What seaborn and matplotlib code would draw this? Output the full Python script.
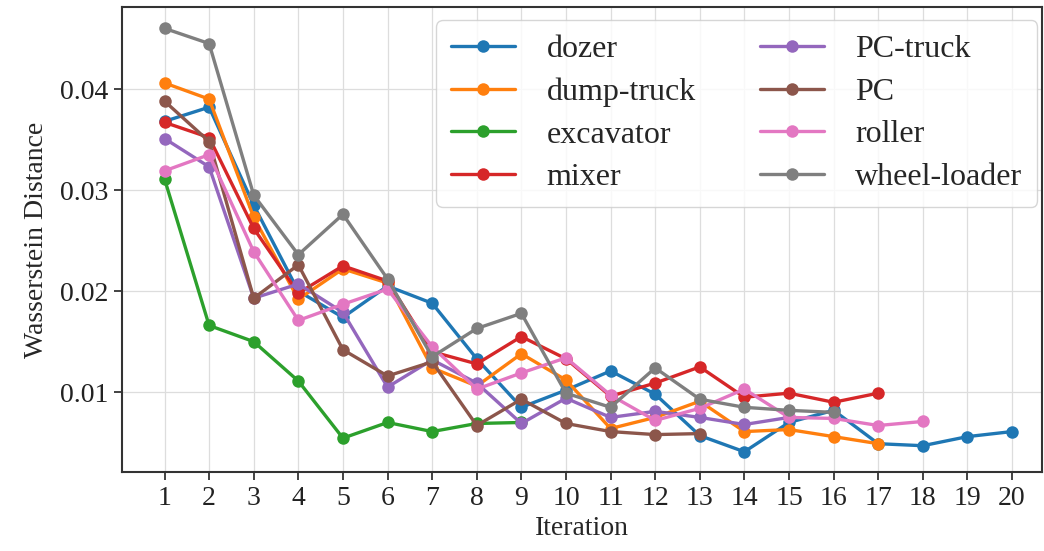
import numpy as np
import pandas as pd
import matplotlib
matplotlib.use("Agg")
import matplotlib.pyplot as plt
import seaborn as sns

# Wasserstein distance per iteration for each machine class
dozer = [0.0368, 0.0382, 0.0285, 0.0200, 0.0174, 0.0205, 0.0188, 0.0133, 0.0085, 0.0102,
         0.0121, 0.0098, 0.0057, 0.0041, 0.0070, 0.0082, 0.0049, 0.0047, 0.0056, 0.0061]
dump_truck = [0.0406, 0.0390, 0.0273, 0.0192, 0.0222, 0.0208, 0.0124, 0.0106, 0.0138, 0.0112,
              0.0064, 0.0075, 0.0091, 0.0061, 0.0063, 0.0056, 0.0049]
excavator = [0.0311, 0.0166, 0.0150, 0.0111, 0.00545, 0.0070, 0.0061, 0.0069, 0.0070]
mixer = [0.0367, 0.0352, 0.0262, 0.0198, 0.0225, 0.0210, 0.0140, 0.0128, 0.0155, 0.0133,
         0.0096, 0.0109, 0.0125, 0.0095, 0.0099, 0.0090, 0.0099]
pc_truck = [0.0351, 0.0323, 0.0193, 0.0207, 0.0179, 0.0105, 0.0132, 0.0109, 0.0069, 0.0094,
            0.0075, 0.0081, 0.0075, 0.0068, 0.0075]
pc = [0.0388, 0.0348, 0.0193, 0.0226, 0.0142, 0.0116, 0.0130, 0.0067, 0.0093, 0.0069,
      0.0061, 0.0058, 0.0059]
roller = [0.0319, 0.0335, 0.0239, 0.0171, 0.0187, 0.0202, 0.0145, 0.0103, 0.0119, 0.0134,
          0.0097, 0.0072, 0.0084, 0.0103, 0.0075, 0.0074, 0.0067, 0.0071]
wheel_loader = [0.0460, 0.0445, 0.0295, 0.0236, 0.0276, 0.0212, 0.0135, 0.0163, 0.0178, 0.0099,
                0.0085, 0.0124, 0.0093, 0.0085, 0.0082, 0.0080]

series_names = ["dozer", "dump-truck", "excavator", "mixer",
                "PC-truck", "PC", "roller", "wheel-loader"]
series_values = [dozer, dump_truck, excavator, mixer, pc_truck, pc, roller, wheel_loader]
iteration_ticks = list(range(1, 21))

rows = []
for name, vals in zip(series_names, series_values):
    for i, v in enumerate(vals, start=1):
        rows.append({"Iteration": i, "Wasserstein Distance": v, "machine": name})
df = pd.DataFrame(rows)

sns.set_style("ticks")
plt.rcParams["font.family"] = ["Liberation Serif", "DejaVu Serif"]
plt.rcParams["font.size"] = 20

fig = plt.figure(figsize=(10.44, 5.51), dpi=100)
ax = fig.add_axes([0.117, 0.1434, 0.881, 0.8436])

sns.lineplot(data=df, x="Iteration", y="Wasserstein Distance", hue="machine",
             hue_order=series_names, palette="tab10", marker="o", markersize=9,
             markeredgewidth=0, linewidth=2.4, dashes=False, ax=ax)

ax.set_xlim(0.05, 20.67)
ax.set_ylim(0.0021, 0.0481)
ax.set_xticks(iteration_ticks)
ax.set_xticklabels([str(t) for t in iteration_ticks], fontsize=20)
ax.set_yticks([0.01, 0.02, 0.03, 0.04])
ax.set_yticklabels(["0.01", "0.02", "0.03", "0.04"], fontsize=20)
ax.tick_params(axis="both", direction="out", length=6, width=1.2, colors="#222222", pad=4)
ax.grid(True, color="#dddddd", linewidth=0.9)
ax.set_axisbelow(True)
for sp in ax.spines.values():
    sp.set_color("#333333")
    sp.set_linewidth(1.5)

ax.set_xlabel("Iteration", fontsize=20, labelpad=4)
ax.set_ylabel("Wasserstein Distance", fontsize=20, labelpad=8)

leg = ax.legend(ncol=2, loc="upper right", fontsize=23, frameon=True, fancybox=True,
                handlelength=2.0, columnspacing=2.0, borderpad=0.45, labelspacing=0.42,
                handletextpad=1.0, borderaxespad=0.0, bbox_to_anchor=(0.9946, 0.972))
leg.get_frame().set_edgecolor("#cccccc")
leg.get_frame().set_linewidth(1.0)

fig.savefig("out.png", dpi=100)
